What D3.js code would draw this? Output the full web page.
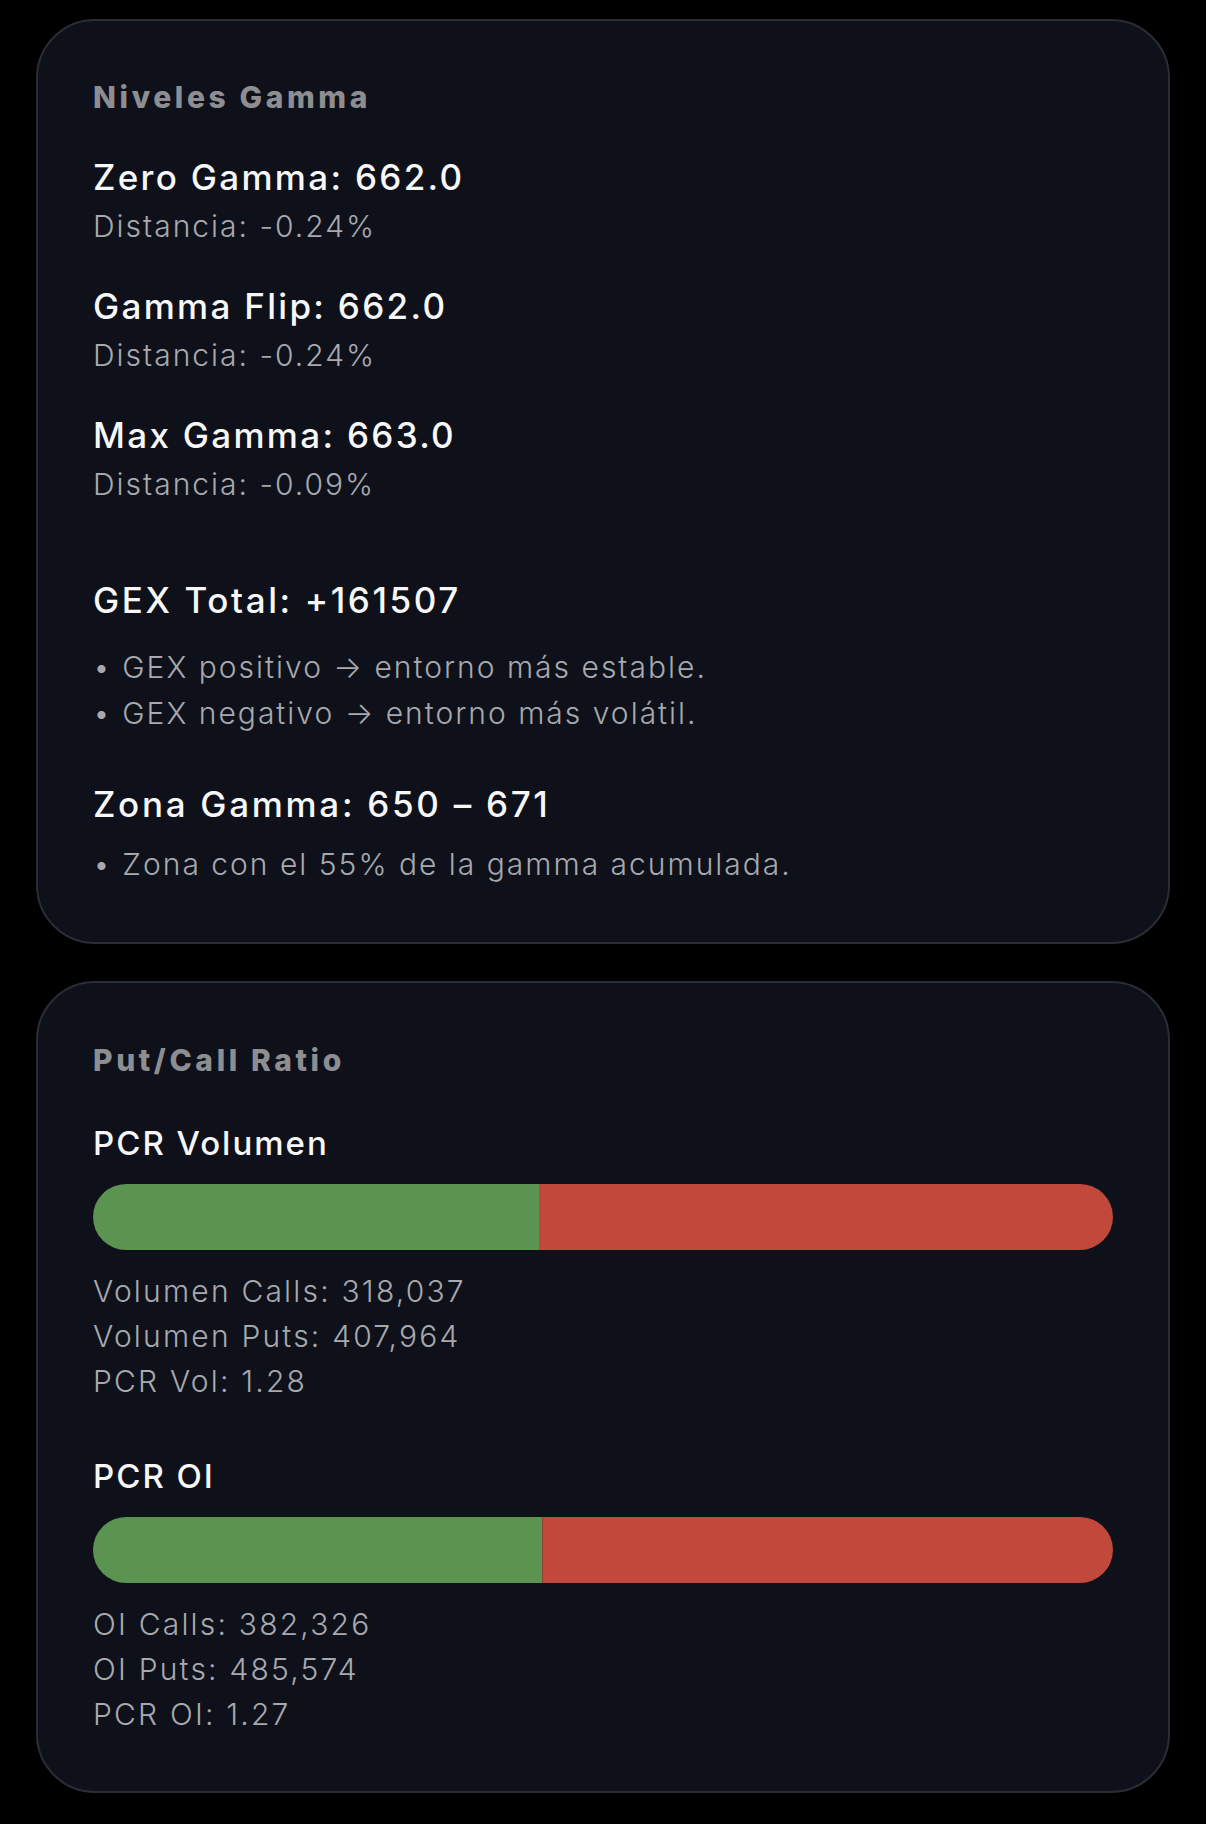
<!DOCTYPE html>
<html>
<head>
<meta charset="utf-8">
<script src="https://cdn.jsdelivr.net/npm/d3@7"></script>
<style>
  html, body { margin: 0; padding: 0; background: #000; }
  svg { display: block; }
</style>
</head>
<body>
<svg id="chart" width="1206" height="1824"></svg>
<script>
// ---- Data ----
const gammaLevels = ["Zero Gamma", "Gamma Flip", "Max Gamma"];
const gammaValues = [662.0, 662.0, 663.0];
const gammaDistances = [-0.24, -0.24, -0.09];
const gexTotal = 161507;
const gexNotes = ["GEX positivo \u2192 entorno más estable.", "GEX negativo \u2192 entorno más volátil."];
const zoneRange = [650, 671];
const zoneShare = 55;

const pcrNames = ["PCR Volumen", "PCR OI"];
const pcrCallLabels = ["Volumen Calls", "OI Calls"];
const pcrPutLabels = ["Volumen Puts", "OI Puts"];
const pcrRatioLabels = ["PCR Vol", "PCR OI"];
const pcrCalls = [318037, 382326];
const pcrPuts = [407964, 485574];
const pcrRatios = [1.28, 1.27];

// ---- Drawing ----
const svg = d3.select("#chart");
const W = 1206, H = 1824;
svg.append("rect").attr("width", W).attr("height", H).attr("fill", "#000");

const FONT = "Inter, 'Noto Sans', sans-serif";
const cardX = 37, cardW = 1132, cardR = 58;
const textX = 93;
const white = "#f7f7f8", gray = "#a7a9af", titleGray = "#8e8e92";

function card(y, h) {
  svg.append("rect")
    .attr("x", cardX).attr("y", y).attr("width", cardW).attr("height", h)
    .attr("rx", cardR).attr("ry", cardR)
    .attr("fill", "#0e111a").attr("stroke", "#2a2d36").attr("stroke-width", 2);
}
function text(x, y, s, size, weight, color, ls) {
  return svg.append("text")
    .attr("x", x).attr("y", y)
    .attr("font-family", FONT).attr("font-size", size).attr("font-weight", weight)
    .attr("fill", color).attr("letter-spacing", ls || 0)
    .text(s);
}
const hy = s => s.replace("\u2212", "-");
const fmt1 = d3.format(".1f");
const fmtPct = d => hy(d3.format(".2f")(d)) + "%";
const fmtInt = d3.format(",");

const HEAD = 35, HEADW = 550, HEADLS = 2.3;
const SUB = 30, SUBW = 300, SUBLS = 2.0;
const TITLE = 30, TITLEW = 800, TITLELS = 3.6;

// Card 1
card(20, 923);
text(textX, 108, "Niveles Gamma", TITLE, TITLEW, titleGray, TITLELS);
const baseY = [190, 319, 448];
gammaLevels.forEach((name, i) => {
  text(textX, baseY[i], name + ": " + fmt1(gammaValues[i]), HEAD, HEADW, white, HEADLS);
  text(textX, baseY[i] + 47, "Distancia: " + fmtPct(gammaDistances[i]), SUB, SUBW, gray, SUBLS);
});
text(textX, 613, "GEX Total: " + (gexTotal >= 0 ? "+" : "") + gexTotal, HEAD, HEADW, white, HEADLS + 0.3);
gexNotes.forEach((s, i) => {
  text(textX, 678 + i * 46, "\u2022 " + s, SUB, SUBW, gray, SUBLS);
});
text(textX, 817, "Zona Gamma: " + zoneRange[0] + " \u2013 " + zoneRange[1], HEAD, HEADW, white, HEADLS + 0.4);
text(textX, 875, "\u2022 Zona con el " + zoneShare + "% de la gamma acumulada.", SUB, SUBW, gray, SUBLS);

// Card 2
card(982, 810);
text(textX, 1071, "Put/Call Ratio", TITLE, TITLEW, titleGray, TITLELS);

const barX0 = 93, barX1 = 1113, barH = 66;
const sectionY = [1155, 1488];
const defs = svg.append("defs");
pcrNames.forEach((name, i) => {
  const y0 = sectionY[i];
  text(textX, y0, name, 33, HEADW, white, 2.0);
  const total = pcrCalls[i] + pcrPuts[i];
  const x = d3.scaleLinear().domain([0, total]).range([barX0, barX1]);
  const by = y0 + 29;
  const cid = "clip" + i;
  defs.append("clipPath").attr("id", cid)
    .append("rect").attr("x", x(0)).attr("y", by).attr("width", x(total) - x(0)).attr("height", barH)
    .attr("rx", barH / 2).attr("ry", barH / 2);
  const g = svg.append("g").attr("clip-path", `url(#${cid})`);
  const segs = [
    { start: 0, end: pcrCalls[i], color: "#5a9450" },
    { start: pcrCalls[i], end: total, color: "#c0493c" }
  ];
  g.selectAll("rect").data(segs).join("rect")
    .attr("x", d => x(d.start)).attr("y", by)
    .attr("width", d => x(d.end) - x(d.start)).attr("height", barH)
    .attr("fill", d => d.color);
  const ty = y0 + 147;
  text(textX, ty, pcrCallLabels[i] + ": " + fmtInt(pcrCalls[i]), SUB, SUBW, gray, SUBLS + 0.2);
  text(textX, ty + 45, pcrPutLabels[i] + ": " + fmtInt(pcrPuts[i]), SUB, SUBW, gray, SUBLS + 0.2);
  text(textX, ty + 90, pcrRatioLabels[i] + ": " + d3.format(".2f")(pcrRatios[i]), SUB, SUBW, gray, SUBLS + 0.2);
});
</script>
</body>
</html>
